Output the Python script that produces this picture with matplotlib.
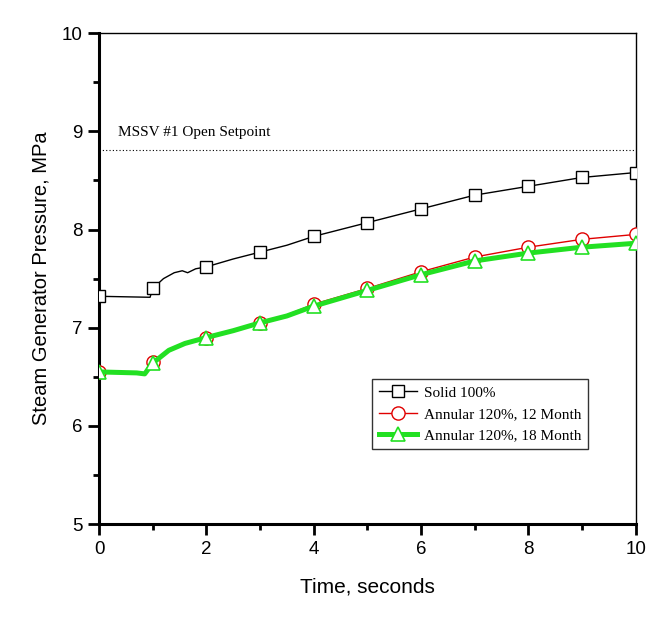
import numpy as np
import matplotlib
matplotlib.use("Agg")
import matplotlib.pyplot as plt
from matplotlib.ticker import MultipleLocator

# Data
solid_t = [0, 0.95, 1.0, 1.2, 1.4, 1.55, 1.65, 1.8, 2, 2.5, 3, 3.5, 4, 5, 6, 7, 8, 9, 10]
solid_p = [7.32, 7.31, 7.40, 7.50, 7.56, 7.58, 7.56, 7.60, 7.62, 7.70, 7.77, 7.84, 7.93,
           8.07, 8.21, 8.35, 8.44, 8.53, 8.58]

ann_t = [0, 0.7, 0.85, 1.0, 1.3, 1.6, 2, 2.5, 3, 3.5, 4, 5, 6, 7, 8, 9, 10]
ann12_p = [6.55, 6.54, 6.53, 6.65, 6.77, 6.84, 6.90, 6.97, 7.05, 7.13, 7.24, 7.40, 7.57,
           7.72, 7.82, 7.90, 7.95]
ann18_p = [6.55, 6.54, 6.53, 6.64, 6.77, 6.84, 6.90, 6.97, 7.05, 7.12, 7.22, 7.38, 7.54,
           7.68, 7.76, 7.82, 7.86]

setpoint = 8.81
labels = ["Solid 100%", "Annular 120%, 12 Month", "Annular 120%, 18 Month"]


def int_idx(t):
    return [i for i, v in enumerate(t) if float(v).is_integer()]


fig = plt.figure(figsize=(6.65, 6.24), dpi=100)
ax = fig.add_axes([0.149, 0.160, 0.807, 0.787])

ax.plot(solid_t, solid_p, color="black", lw=1, marker="s", ms=9,
        mfc="white", mec="black", markevery=int_idx(solid_t), label=labels[0], zorder=3)
ax.plot(ann_t, ann12_p, color="#e00000", lw=1, marker="o", ms=9.5,
        mfc="white", mec="#e00000", markevery=int_idx(ann_t), label=labels[1], zorder=3)
ax.plot(ann_t, ann18_p, color="#22e022", lw=3.6, marker="^", ms=10,
        mfc="white", mec="#22e022", mew=1.2, markevery=int_idx(ann_t), label=labels[2], zorder=4)

ax.axhline(setpoint, color="black", lw=0.8, ls=(0, (1, 2)))
ax.text(0.35, 8.95, "MSSV #1 Open Setpoint", family="Liberation Serif", fontsize=11)

ax.set_xlim(0, 10)
ax.set_ylim(5, 10)
ax.xaxis.set_major_locator(MultipleLocator(2))
ax.xaxis.set_minor_locator(MultipleLocator(1))
ax.yaxis.set_major_locator(MultipleLocator(1))
ax.yaxis.set_minor_locator(MultipleLocator(0.5))

for s in ax.spines.values():
    s.set_linewidth(1.0)
ax.spines["left"].set_linewidth(2.2)
ax.spines["bottom"].set_linewidth(2.2)

ax.tick_params(which="major", direction="out", length=8, width=2, labelsize=13.5,
               top=False, right=False, pad=4)
ax.tick_params(which="minor", direction="out", length=4.5, width=2, top=False, right=False)
for lab in ax.get_xticklabels() + ax.get_yticklabels():
    lab.set_family("Liberation Sans")

ax.set_xlabel("Time, seconds", family="Liberation Sans", fontsize=15, labelpad=14)
ax.set_ylabel("Steam Generator Pressure, MPa", family="Liberation Sans", fontsize=14.5, labelpad=8)

leg = ax.legend(loc="lower right", bbox_to_anchor=(0.925, 0.137), frameon=True, fancybox=False,
                edgecolor="black", prop={"family": "Liberation Serif", "size": 11},
                handlelength=2.5, borderpad=0.45, labelspacing=0.5, handletextpad=0.4)
leg.get_frame().set_linewidth(1.0)

fig.savefig("out.png", dpi=100)
